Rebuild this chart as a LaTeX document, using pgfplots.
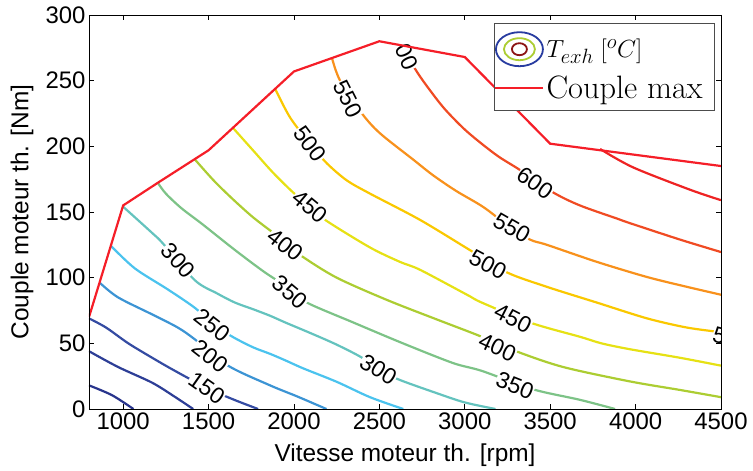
\documentclass[border=0pt]{standalone}
\usepackage{fontspec}
\newfontfamily\arial{Liberation Sans}
\usepackage{pgfplots}
\pgfplotsset{compat=1.18}
\definecolor{cA}{RGB}{40,52,140}
\definecolor{cB}{RGB}{45,62,150}
\definecolor{cC}{RGB}{52,75,162}
\definecolor{cD}{RGB}{60,148,212}
\definecolor{cE}{RGB}{75,195,238}
\definecolor{cF}{RGB}{100,195,190}
\definecolor{cG}{RGB}{125,195,135}
\definecolor{cH}{RGB}{172,205,50}
\definecolor{cI}{RGB}{230,225,20}
\definecolor{cJ}{RGB}{250,200,0}
\definecolor{cK}{RGB}{248,145,28}
\definecolor{cL}{RGB}{240,75,35}
\definecolor{cM}{RGB}{238,35,35}
\definecolor{cBound}{RGB}{245,30,40}
\definecolor{dred}{RGB}{140,20,20}
\definecolor{legblue}{RGB}{40,60,160}
\tikzset{clab/.style={font=\arial\fontsize{23}{27}\selectfont, fill=white, inner sep=0.5bp}}
\begin{document}
\begin{tikzpicture}
\begin{axis}[
  name=ax, scale only axis, width=632bp, height=394bp,
  xmin=800, xmax=4500, ymin=0, ymax=300,
  xtick={1000,1500,...,4500}, ytick={0,50,...,300},
  tick align=inside, major tick length=5bp,
  tick style={black, line width=0.6bp},
  axis line style={black, line width=0.8bp},
  axis on top,
  ticklabel style={font=\arial\fontsize{24}{28}\selectfont},
  /pgf/number format/assume math mode=true,
  /pgf/number format/1000 sep={},
  scaled ticks=false,
  xlabel={Vitesse moteur th. [rpm]}, ylabel={Couple moteur th. [Nm]},
  label style={font=\arial\fontsize{24.5}{28}\selectfont},
  xlabel style={at={(axis description cs:0.5,-0.1168)}, anchor=center},
  ylabel style={at={(axis description cs:-0.106,0.5)}, anchor=center},
  every axis plot/.append style={line width=2.2bp},
  legend style={at={(0.9905,0.9797)}, anchor=north east, draw=black!70, line width=0.6bp,
    fill=white, font=\fontsize{32.5}{38}\selectfont, inner xsep=0bp, inner ysep=8bp,
    nodes={inner sep=2bp}, cells={anchor=west}, row sep=7bp},
]
% contours
\addplot[cA, smooth, forget plot] coordinates {(800,18) (935,10.5) (1060,0)};
\addplot[cB, smooth, forget plot] coordinates {(800,44) (970,32) (1170,20) (1300,9.5) (1410,0)};
\addplot[cC, smooth, forget plot] coordinates {(800,69) (900,62) (1030,50) (1170,39) (1290,30) (1490,16) (1650,7) (1790,0)};
\addplot[cD, smooth, forget plot] coordinates {(864,96) (970,85) (1170,72) (1320,62) (1420,53) (1614,33) (1860,18) (2020,9.5) (2190,0)};
\addplot[cE, smooth, forget plot] coordinates {(930,124) (1069,107) (1262,91) (1420,77) (1523,65) (1640,55) (1760,47) (1860,42) (1950,37) (2053,31) (2252,20.6) (2445,9) (2640,0)};
\addplot[cF, smooth, forget plot] coordinates {(1000,154) (1170,134) (1233,126) (1420,98) (1550,88) (1655,81) (1760,76) (1860,71) (1947,66) (2111,57) (2250,49) (2386,40) (2494,31) (2603,23) (2837,12) (3000,5) (3180,0)};
\addplot[cG, smooth, forget plot] coordinates {(1204,172) (1250,164) (1340,153) (1461,141) (1655,121) (1830,104) (1983,91) (2076,81) (2345,66) (2638,50) (2931,35) (3100,29) (3399,15) (3674,7) (3880,0)};
\addplot[cH, smooth, forget plot] coordinates {(1420,190) (1530,174) (1640,160) (1760,146) (1880,134) (1965,125) (2050,116) (2250,100) (2545,83) (2840,68) (3080,56) (3300,44) (3575,32) (3967,21) (4260,14.5) (4500,9)};
\addplot[cI, smooth, forget plot] coordinates {(1643,214) (1760,197) (1877,180) (1994,165) (2094,154) (2182,144) (2445,123) (2621,112) (2738,106) (3013,87) (3100,81) (3390,65.5) (3674,55) (3800,50) (3967,45.5) (4260,39) (4500,33)};
\addplot[cJ, smooth, forget plot] coordinates {(1889,244) (1977,222) (2094,202) (2193,187) (2310,174) (2445,164) (2738,144) (3030,121) (3247,104) (3481,93) (3774,81) (4067,69) (4301,62) (4500,58.5)};
\addplot[cK, smooth, forget plot] coordinates {(2223,267) (2270,250) (2398,225) (2503,210) (2697,190) (2814,178) (2950,166) (3106,154) (3250,140) (3382,129) (3481,125) (3774,112) (4067,100.5) (4301,93) (4500,87)};
\addplot[cL, smooth, forget plot] coordinates {(2640,277) (2691,263) (2755,250) (2872,230) (2990,214) (3089,203) (3200,192) (3323,182) (3516,165) (3674,155) (3891,145) (3967,141.5) (4260,129) (4500,119.5)};
\addplot[cM, smooth, forget plot] coordinates {(3792,198) (3985,184) (4318,167) (4500,159)};
% contour labels
\node[clab, rotate=-35] at (axis cs:1489,16) {150};
\node[clab, rotate=-38] at (axis cs:1508,40) {200};
\node[clab, rotate=-38] at (axis cs:1523,64) {250};
\node[clab, rotate=-48] at (axis cs:1323,113) {300};
\node[clab, rotate=-32] at (axis cs:2494,30) {300};
\node[clab, rotate=-40] at (axis cs:1977,89) {350};
\node[clab, rotate=-22] at (axis cs:3294,18) {350};
\node[clab, rotate=-38] at (axis cs:1952,125) {400};
\node[clab, rotate=-25] at (axis cs:3191,47) {400};
\node[clab, rotate=-40] at (axis cs:2094,154) {450};
\node[clab, rotate=-27] at (axis cs:3282,69) {450};
\node[clab, rotate=-53] at (axis cs:2094,202) {500};
\node[clab, rotate=-28] at (axis cs:3136,110) {500};
\node[clab, rotate=-63] at (axis cs:2316,236) {550};
\node[clab, rotate=-30] at (axis cs:3276,138) {550};
\node[clab, rotate=-35] at (axis cs:3411,172) {600};
\node[clab, rotate=-65] at (axis cs:2660,268) {00};
\node[clab, rotate=-15, anchor=west] at (axis cs:4452,57) {500};
% legend
\addlegendimage{legend image code/.code={
  \draw[legblue, line width=1.8bp] (24bp,0) ellipse [x radius=23.5bp, y radius=17bp];
  \draw[cH, line width=1.8bp] (24bp,0) ellipse [x radius=15.5bp, y radius=11bp];
  \draw[dred, line width=1.8bp] (24bp,0) ellipse [x radius=7.5bp, y radius=6bp];
}}
\addlegendentry{$T_{exh}\;[^oC]$}
\addplot[cBound, line width=2.2bp, legend image code/.code={\draw[cBound, line width=2.2bp] (0bp,0) -- (48bp,0);}] coordinates {(800,70) (1000,155) (1200,172) (1500,197) (2000,257) (2500,280) (3000,268) (3500,202) (4500,185)};
\addlegendentry{Couple max\kern10bp}
\end{axis}
\path[use as bounding box] ([xshift=-89bp,yshift=-62bp]ax.south west) rectangle ([xshift=32bp,yshift=15bp]ax.north east);
\end{tikzpicture}
\end{document}
